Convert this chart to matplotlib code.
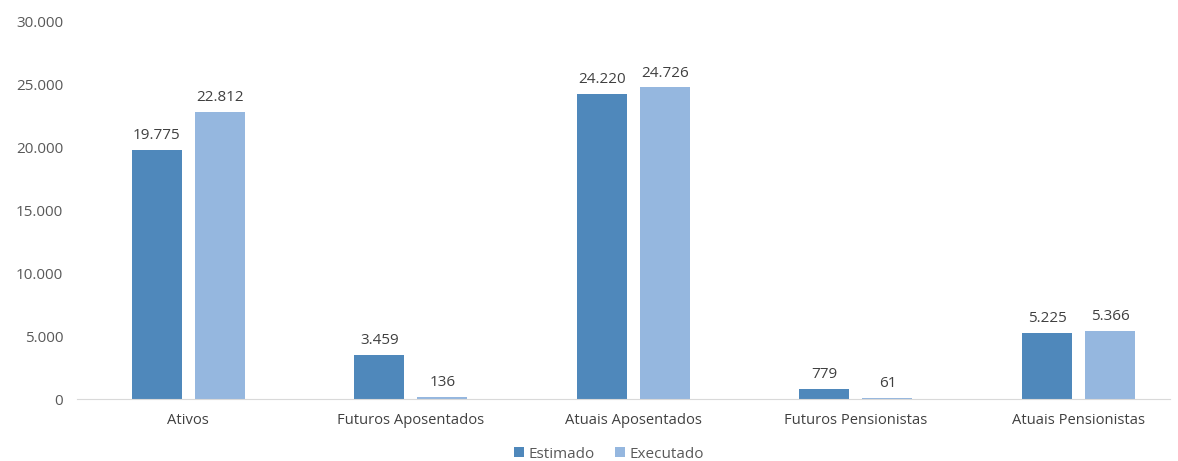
import matplotlib.pyplot as plt
import numpy as np

categories = ["Ativos", "Futuros Aposentados", "Atuais Aposentados",
              "Futuros Pensionistas", "Atuais Pensionistas"]
estimado = [19775, 3459, 24220, 779, 5225]
executado = [22812, 136, 24726, 61, 5366]
yticks = [0, 5000, 10000, 15000, 20000, 25000, 30000]


def fmt(v):
    return f"{v:,}".replace(",", ".")


plt.rcParams['font.family'] = ['Open Sans', 'DejaVu Sans']
grey = '#595959'

fig = plt.figure(figsize=(11.78, 4.61), dpi=100)
ax = fig.add_axes([77 / 1178, 62 / 461, (1170 - 77) / 1178, 378 / 461])

x = np.arange(len(categories))
w = 0.225
off = 0.1416
b1 = ax.bar(x - off, estimado, w, color='#4F88BB', label='Estimado')
b2 = ax.bar(x + off, executado, w, color='#95B7DF', label='Executado')

for bars, vals in [(b1, estimado), (b2, executado)]:
    for b, v in zip(bars, vals):
        ax.annotate(fmt(v), (b.get_x() + b.get_width() / 2, v),
                    xytext=(0, 5), textcoords='offset points',
                    ha='center', va='bottom', fontsize=11, color='#404040')

ax.set_xlim(-0.5, (1170 - 188.5) / 222.5)
ax.set_ylim(0, 30000)
ax.set_yticks(yticks)
ax.set_yticklabels([fmt(v) for v in yticks], fontsize=11, color=grey)
ax.set_xticks(x)
ax.set_xticklabels(categories, fontsize=10.6, color='#404040')
ax.tick_params(length=0, axis='y', pad=10)
ax.tick_params(length=0, axis='x', pad=10)
for s in ['top', 'right', 'left']:
    ax.spines[s].set_visible(False)
ax.spines['bottom'].set_color('#D9D9D9')

ax.legend(loc='center', bbox_to_anchor=(609 / 1178, 7 / 461),
          bbox_transform=fig.transFigure, ncol=2, frameon=False,
          fontsize=11, labelcolor=grey, handlelength=0.65, handleheight=0.6,
          handletextpad=0.3, columnspacing=1.3)

fig.savefig('out.png', dpi=100)
